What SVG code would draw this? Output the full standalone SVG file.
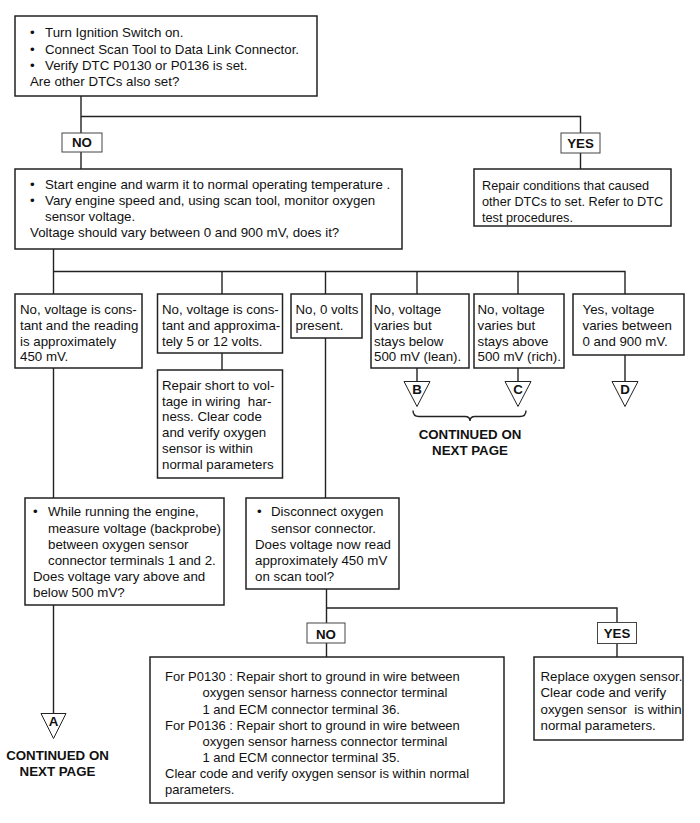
<svg xmlns="http://www.w3.org/2000/svg" width="700" height="823" viewBox="0 0 700 823">
<defs>
<style>
.box{fill:#fff;stroke:#222;stroke-width:1.5}
.lbl{fill:#fff;stroke:#444;stroke-width:1}
.ln{fill:none;stroke:#222;stroke-width:1.4}
.tri{fill:#fff;stroke:#222;stroke-width:1}
text{font-family:"Liberation Sans",Arial,Helvetica,sans-serif;font-size:13.3px;fill:#111}
.b{font-weight:bold}
.c{text-anchor:middle}
.s{font-size:13px}
.n{font-size:12.7px}
</style>
</defs>
<rect width="700" height="823" fill="#fff"/>
<g id="connectors">
<path class="ln" d="M81,96 V169"/>
<path class="ln" d="M81,116.5 H580.5 V169"/>
<path class="ln" d="M53.5,249 V294"/>
<path class="ln" d="M53.5,271.5 H625 V294"/>
<path class="ln" d="M222,271.5 V294"/>
<path class="ln" d="M325.5,271.5 V294"/>
<path class="ln" d="M417,271.5 V294"/>
<path class="ln" d="M518,271.5 V294"/>
<path class="ln" d="M222,353 V370"/>
<path class="ln" d="M53.5,368 V498"/>
<path class="ln" d="M325.5,338 V498"/>
<path class="ln" d="M53.5,605 V713"/>
<path class="ln" d="M417,368 V381"/>
<path class="ln" d="M518,368 V381"/>
<path class="ln" d="M625,355 V381"/>
<path class="ln" d="M326.5,589 V657"/>
<path class="ln" d="M326.5,608 H617 V657"/>
<path class="ln" d="M413,410.5 Q413,416.5 419,416.5 L465,416.5 Q470,416.5 470,421 Q470,416.5 475,416.5 L520,416.5 Q526,416.5 526,410.5"/>
</g>
<g id="n_start">
<rect class="box" x="15" y="16" width="302" height="80"/>
<text x="30" y="37">•</text><text x="45" y="37">Turn Ignition Switch on.</text>
<text x="30" y="53.5">•</text><text x="45" y="53.5">Connect Scan Tool to Data Link Connector.</text>
<text x="30" y="69.5">•</text><text x="45" y="69.5">Verify DTC P0130 or P0136 is set.</text>
<text x="30" y="85.5">Are other DTCs also set?</text>
</g>
<g id="lbl_no1">
<rect class="lbl" x="62" y="133" width="40" height="19"/>
<text class="b c" x="82" y="147">NO</text>
</g>
<g id="lbl_yes1">
<rect class="lbl" x="561" y="133" width="39" height="20"/>
<text class="b c" x="580.5" y="148">YES</text>
</g>
<g id="n_repair_dtc">
<rect class="box" x="474" y="169" width="197" height="57"/>
<text class="n" x="482" y="189.5">Repair conditions that caused</text>
<text class="n" x="482" y="205.5">other DTCs to set. Refer to DTC</text>
<text class="n" x="482" y="221.5">test procedures.</text>
</g>
<g id="n_engine">
<rect class="box" x="15" y="169" width="387" height="80"/>
<text x="30" y="188.5">•</text><text x="45" y="188.5">Start engine and warm it to normal operating temperature .</text>
<text x="30" y="204.5">•</text><text x="45" y="204.5">Vary engine speed and, using scan tool, monitor oxygen</text>
<text x="45" y="220.5">sensor voltage.</text>
<text x="30" y="236.5">Voltage should vary between 0 and 900 mV, does it?</text>
</g>
<g id="n_450">
<rect class="box" x="15" y="294" width="127" height="74"/>
<text x="20" y="314">No, voltage is cons-</text>
<text x="20" y="330">tant and the reading</text>
<text x="20" y="345.5">is approximately</text>
<text x="20" y="361">450 mV.</text>
</g>
<g id="n_5or12">
<rect class="box" x="157.5" y="294" width="125" height="59"/>
<text x="162" y="314">No, voltage is cons-</text>
<text x="162" y="330">tant and approxima-</text>
<text x="162" y="345.5">tely 5 or 12 volts.</text>
</g>
<g id="n_0v">
<rect class="box" x="291" y="294" width="71" height="44"/>
<text x="295.5" y="314">No, 0 volts</text>
<text x="295.5" y="330">present.</text>
</g>
<g id="n_lean">
<rect class="box" x="371" y="294" width="98" height="74"/>
<text x="374" y="314">No, voltage</text>
<text x="374" y="330">varies but</text>
<text x="374" y="345.5">stays below</text>
<text x="374" y="361">500 mV (lean).</text>
</g>
<g id="n_rich">
<rect class="box" x="474" y="294" width="90" height="74"/>
<text x="477.5" y="314">No, voltage</text>
<text x="477.5" y="330">varies but</text>
<text x="477.5" y="345.5">stays above</text>
<text x="477.5" y="361">500 mV (rich).</text>
</g>
<g id="n_yesvary">
<rect class="box" x="573" y="294" width="111" height="61"/>
<text x="582.5" y="314">Yes, voltage</text>
<text x="582.5" y="330">varies between</text>
<text x="582.5" y="345.5">0 and 900 mV.</text>
</g>
<g id="t_B">
<path class="tri" d="M404,381.5 H430 L417,406.5 Z"/>
<text class="b c" x="417" y="393.5">B</text>
</g>
<g id="t_C">
<path class="tri" d="M505,381.5 H531 L518,406.5 Z"/>
<text class="b c" x="518" y="393.5">C</text>
</g>
<g id="t_D">
<path class="tri" d="M612,381.5 H638 L625,406.5 Z"/>
<text class="b c" x="625" y="393.5">D</text>
</g>
<g id="n_cont_bc">
<text class="b c" x="470" y="438.5">CONTINUED ON</text>
<text class="b c" x="470" y="454.5">NEXT PAGE</text>
</g>
<g id="n_repair_volt">
<rect class="box" x="157.5" y="370" width="125" height="108"/>
<text x="162" y="389.5">Repair short to vol-</text>
<text x="162" y="405.5" xml:space="preserve">tage in wiring  har-</text>
<text x="162" y="421">ness. Clear code</text>
<text x="162" y="437">and verify oxygen</text>
<text x="162" y="452.5">sensor is within</text>
<text x="162" y="468.5">normal parameters</text>
</g>
<g id="n_backprobe">
<rect class="box" x="25" y="498" width="199" height="107"/>
<text x="33" y="516">•</text><text x="48" y="516">While running the engine,</text>
<text x="48" y="532.5">measure voltage (backprobe)</text>
<text x="48" y="548.5">between oxygen sensor</text>
<text x="48" y="564.5">connector terminals 1 and 2.</text>
<text x="33" y="581">Does voltage vary above and</text>
<text x="33" y="597">below 500 mV?</text>
</g>
<g id="n_disconnect">
<rect class="box" x="246" y="498" width="153" height="91"/>
<text x="257" y="516">•</text><text x="271" y="516">Disconnect oxygen</text>
<text x="271" y="532.5">sensor connector.</text>
<text x="255" y="548.5">Does voltage now read</text>
<text x="255" y="564.5">approximately 450 mV</text>
<text x="255" y="581">on scan tool?</text>
</g>
<g id="t_A">
<path class="tri" d="M41,713.5 H66 L53.5,738.5 Z"/>
<text class="b c" x="53.5" y="726">A</text>
</g>
<g id="n_cont_a">
<text class="b c" x="57.5" y="760">CONTINUED ON</text>
<text class="b c" x="57.5" y="776">NEXT PAGE</text>
</g>
<g id="lbl_no2">
<rect class="lbl" x="307" y="623" width="38" height="20"/>
<text class="b c" x="326" y="638.5">NO</text>
</g>
<g id="lbl_yes2">
<rect class="lbl" x="597.5" y="622.5" width="39" height="21"/>
<text class="b c" x="617" y="637.5">YES</text>
</g>
<g id="n_short_ground">
<rect class="box" x="150" y="657" width="354" height="146"/>
<text class="s" x="165" y="681">For P0130 : Repair short to ground in wire between</text>
<text class="s" x="202.5" y="697">oxygen sensor harness connector terminal</text>
<text class="s" x="202.5" y="713.5">1 and ECM connector terminal 36.</text>
<text class="s" x="165" y="729.5">For P0136 : Repair short to ground in wire between</text>
<text class="s" x="202.5" y="745.5">oxygen sensor harness connector terminal</text>
<text class="s" x="202.5" y="761.5">1 and ECM connector terminal 35.</text>
<text class="s" x="165" y="777.5">Clear code and verify oxygen sensor is within normal</text>
<text class="s" x="165" y="793.5">parameters.</text>
</g>
<g id="n_replace">
<rect class="box" x="534" y="657" width="149" height="83"/>
<text x="540.5" y="680.5">Replace oxygen sensor.</text>
<text x="540.5" y="697">Clear code and verify</text>
<text x="540.5" y="713.5" xml:space="preserve">oxygen sensor  is within</text>
<text x="540.5" y="729.5">normal parameters.</text>
</g>
</svg>
